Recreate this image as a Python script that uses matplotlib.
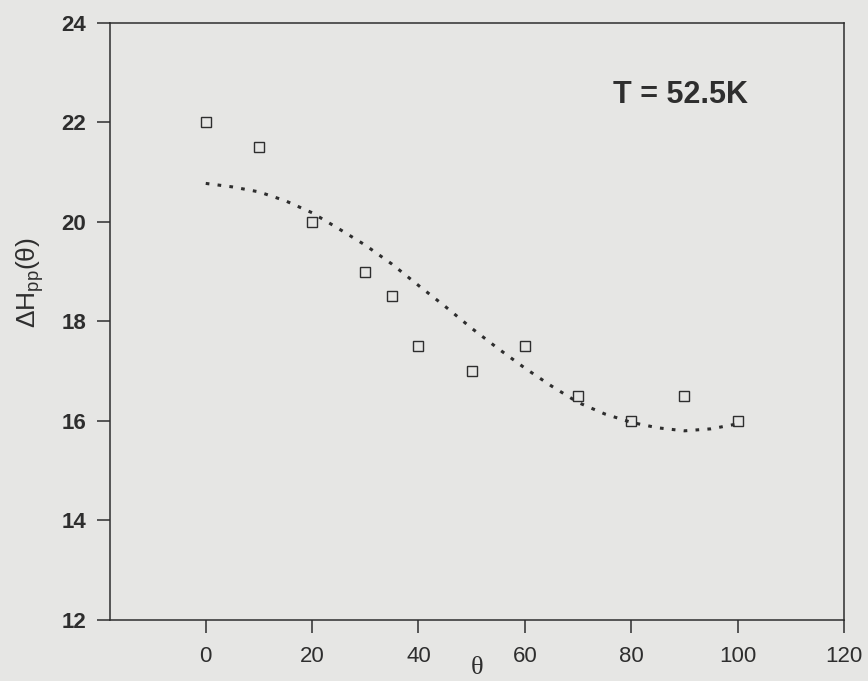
import matplotlib
matplotlib.use("Agg")
import matplotlib.pyplot as plt

# Measured linewidths (ΔHpp) versus field angle θ
theta = [0, 10, 20, 30, 35, 40, 50, 60, 70, 80, 90, 100]
dh_pp = [22.0, 21.5, 20.0, 19.0, 18.5, 17.5, 17.0, 17.5, 16.5, 16.0, 16.5, 16.0]

# Fitted curve
fit_theta = [0, 5, 10, 15, 20, 25, 30, 35, 40, 45, 50, 55, 60, 65, 70, 75,
             80, 85, 90, 95, 100]
fit_dh = [20.77, 20.70, 20.60, 20.42, 20.18, 19.86, 19.53, 19.15, 18.72,
          18.30, 17.86, 17.45, 17.06, 16.70, 16.37, 16.14, 15.97, 15.86,
          15.80, 15.84, 15.94]

x_ticks = [0, 20, 40, 60, 80, 100, 120]
y_ticks = [12, 14, 16, 18, 20, 22, 24]
temp_label = "T = 52.5K"

SANS = "Liberation Sans"
BG = "#e6e6e4"
INK = "#2e2e2e"

plt.rcParams["mathtext.default"] = "regular"

fig = plt.figure(figsize=(8.68, 6.81), dpi=100, facecolor=BG)
ax = fig.add_axes([110 / 868, 61 / 681, 734 / 868, 597.4 / 681])
ax.set_facecolor(BG)

ax.plot(fit_theta, fit_dh, color=INK, lw=2.2, linestyle=(0, (1.2, 2.7)),
        dash_capstyle="butt", zorder=2)
ax.plot(theta, dh_pp, linestyle="none", marker="s", markersize=6.5,
        markerfacecolor="none", markeredgecolor=INK, markeredgewidth=1.0,
        zorder=3)

ax.set_xlim(-18, 120)
ax.set_ylim(12, 24)
ax.set_xticks(x_ticks)
ax.set_yticks(y_ticks)

for sp in ax.spines.values():
    sp.set_color(INK)
    sp.set_linewidth(1.1)

ax.tick_params(axis="both", direction="out", length=9.5, width=1.1,
               color=INK, labelcolor=INK)
ax.tick_params(axis="x", pad=9.5)
ax.tick_params(axis="y", pad=7.5)
for lab in ax.get_xticklabels():
    lab.set_fontfamily(SANS)
    lab.set_fontsize(16)
for lab in ax.get_yticklabels():
    lab.set_fontfamily(SANS)
    lab.set_fontsize(16)
    lab.set_fontweight("bold")

ax.text(0.685, 0.879, temp_label, transform=ax.transAxes, ha="left",
        va="center", fontsize=22, fontweight="bold", family=SANS, color=INK)

ax.text(-0.109, 0.565, "ΔH$_{pp}$(θ)", transform=ax.transAxes, rotation=90,
        ha="center", va="center", fontsize=19, family=SANS, color=INK)
fig.text(477 / 868, 0.003, "θ", ha="center", va="bottom",
         fontsize=19, family="Liberation Serif", color=INK)

fig.savefig("out.png", dpi=100, facecolor=BG)
